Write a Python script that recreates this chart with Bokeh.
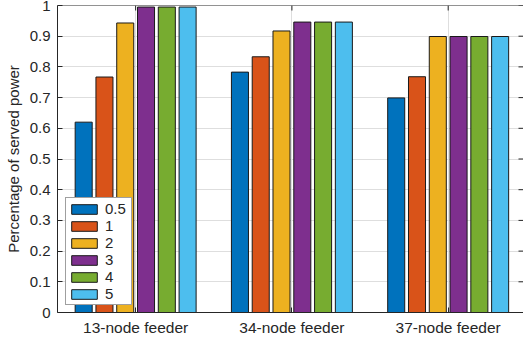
from bokeh.plotting import figure
from bokeh.models import (ColumnDataSource, FixedTicker, LinearAxis, Legend,
                          LegendItem, Range1d, NumeralTickFormatter, Span, Grid)
from bokeh.transform import dodge
from bokeh.embed import file_html
from bokeh.resources import INLINE

# Feeders on the x axis and the six series drawn for each of them
feeders = ["13-node feeder", "34-node feeder", "37-node feeder"]
feeder_pos = [1, 2, 3]
series_names = ["0.5", "1", "2", "3", "4", "5"]
s_05 = [0.620, 0.783, 0.699]
s_1 = [0.767, 0.833, 0.768]
s_2 = [0.943, 0.917, 0.899]
s_3 = [0.995, 0.946, 0.899]
s_4 = [0.995, 0.946, 0.899]
s_5 = [0.995, 0.946, 0.899]
y_ticks = [0, 0.1, 0.2, 0.3, 0.4, 0.5, 0.6, 0.7, 0.8, 0.9, 1.0]

series_values = [s_05, s_1, s_2, s_3, s_4, s_5]
colors = ["#0072BD", "#D95319", "#EDB120", "#7E2F8E", "#77AC30", "#4DBEEE"]

FONT = "Liberation Sans"
TEXT = "#262626"
GRID = "#dedede"

W, H = 523, 341
LEFT, TOP, BOTTOM = 57, 5, 29
X0, X1 = 0.5, 3.482
Y0, Y1 = 0.0, 1.0
TICK_PX = 5

source = ColumnDataSource(dict(
    x=feeder_pos,
    **{f"s{i}": vals for i, vals in enumerate(series_values)},
))

p = figure(width=W, height=H, output_backend="svg", toolbar_location=None,
           x_range=Range1d(X0, X1), y_range=Range1d(Y0, Y1),
           min_border_left=LEFT, min_border_right=0, min_border_top=TOP,
           min_border_bottom=BOTTOM, x_axis_type=None, y_axis_type=None)
p.outline_line_color = None
p.background_fill_color = "white"
p.border_fill_color = "white"

# grid lines at the feeders and at every y tick
p.add_layout(Grid(dimension=0, ticker=FixedTicker(ticks=feeder_pos),
                  grid_line_color=GRID, grid_line_width=1))
p.add_layout(Grid(dimension=1, ticker=FixedTicker(ticks=y_ticks),
                  grid_line_color=GRID, grid_line_width=1))

pitch = 0.133
bar_w = 0.109
renderers = []
for i, name in enumerate(series_names):
    off = (i - 2.5) * pitch
    r = p.vbar(x=dodge("x", off), top=f"s{i}", bottom=0, width=bar_w,
               source=source, fill_color=colors[i], line_color="#1a1a1a",
               line_width=1)
    renderers.append(r)


def style_axis(ax):
    ax.axis_line_color = TEXT
    ax.axis_line_width = 1
    ax.major_tick_line_color = TEXT
    ax.major_tick_in = TICK_PX
    ax.major_tick_out = 0
    ax.minor_tick_line_color = None
    ax.major_label_text_font = FONT
    ax.major_label_text_color = TEXT
    ax.major_label_text_font_size = "15px"


# bottom axis with the feeder names
xb = LinearAxis(ticker=FixedTicker(ticks=feeder_pos),
                major_label_overrides={pos: lab for pos, lab in zip(feeder_pos, feeders)})
style_axis(xb)
xb.major_label_standoff = 6
xb.major_label_text_font_size = "15.5px"
p.add_layout(xb, "below")

# left axis with the percentage ticks
yl = LinearAxis(ticker=FixedTicker(ticks=y_ticks),
                formatter=NumeralTickFormatter(format="0.[0]"),
                axis_label="Percentage of served power")
style_axis(yl)
yl.major_label_standoff = 7
yl.axis_label_text_font = FONT
yl.axis_label_text_font_style = "normal"
yl.axis_label_text_font_size = "15px"
yl.axis_label_text_color = TEXT
yl.axis_label_standoff = 5
p.add_layout(yl, "left")

# box edge on top, with inward ticks on the top and right edges
p.add_layout(Span(location=Y1, dimension="width", line_color=TEXT, line_width=1))
frame_w = W - LEFT
frame_h = H - TOP - BOTTOM
dy = TICK_PX * (Y1 - Y0) / frame_h
dx = TICK_PX * (X1 - X0) / frame_w
p.segment(x0=feeder_pos, y0=[Y1] * len(feeder_pos), x1=feeder_pos,
          y1=[Y1 - dy] * len(feeder_pos), line_color=TEXT, line_width=1)
p.segment(x0=[X1 - dx] * len(y_ticks), y0=y_ticks, x1=[X1] * len(y_ticks),
          y1=y_ticks, line_color=TEXT, line_width=1)

legend = Legend(
    items=[LegendItem(label=n, renderers=[r]) for n, r in zip(series_names, renderers)],
    location=(8, 7),
    glyph_width=32, glyph_height=12, label_height=12, label_width=24,
    spacing=0, padding=2, margin=0, label_standoff=5,
    label_text_font=FONT, label_text_font_size="15px", label_text_color=TEXT,
    label_text_line_height=1.1,
    border_line_color="#404040", border_line_width=1,
    background_fill_color="white", background_fill_alpha=1,
)
p.add_layout(legend)

open("out.html", "w").write(file_html(p, INLINE))
